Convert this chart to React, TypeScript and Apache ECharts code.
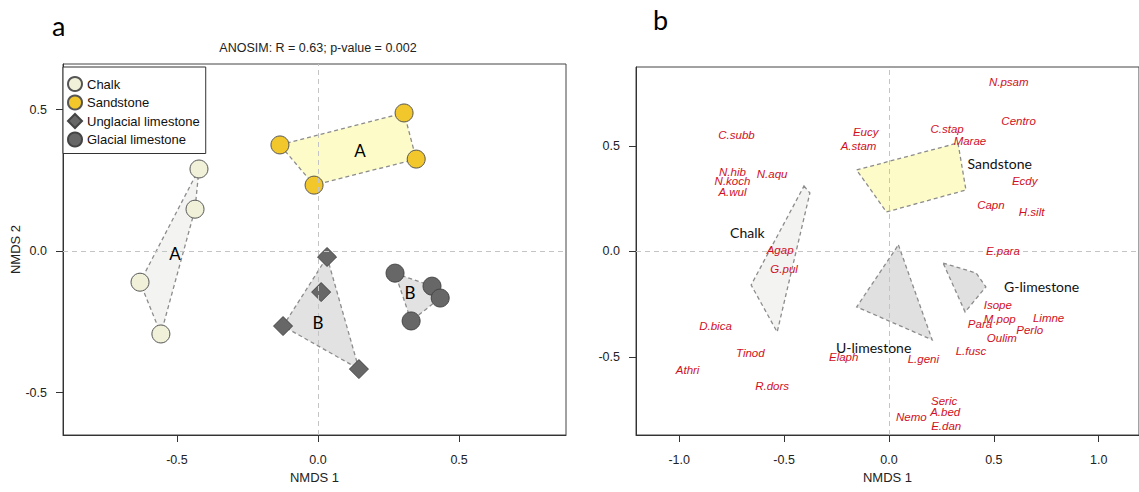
import React, { useEffect, useRef } from "react";
import * as echarts from "echarts";

// ---------- Panel a data ----------
const groupNames = ["Chalk", "Sandstone", "Unglacial limestone", "Glacial limestone"];
const chalkX = [-0.422, -0.436, -0.557, -0.631];
const chalkY = [0.29, 0.148, -0.293, -0.11];
const sandX = [-0.135, 0.305, 0.348, -0.014];
const sandY = [0.375, 0.488, 0.325, 0.233];
const uLimeX = [0.032, 0.145, -0.124, 0.011];
const uLimeY = [-0.021, -0.417, -0.265, -0.145];
const gLimeX = [0.273, 0.404, 0.433, 0.33];
const gLimeY = [-0.078, -0.124, -0.166, -0.247];
const chalkHull = [0, 1, 2, 3];
const sandHull = [0, 1, 2, 3];
const uLimeHull = [0, 1, 2];
const gLimeHull = [0, 1, 2, 3];
const hullLabelText = ["A", "A", "B", "B"];
const hullLabelX = [-0.507, 0.149, 0.0, 0.326];
const hullLabelY = [-0.007, 0.357, -0.254, -0.148];
const aTicks = [-0.5, 0, 0.5];

// ---------- Panel b data ----------
const bChalkHullX = [-0.405, -0.377, -0.533, -0.657];
const bChalkHullY = [0.31, 0.277, -0.382, -0.159];
const bSandHullX = [-0.154, 0.329, 0.367, -0.012];
const bSandHullY = [0.386, 0.514, 0.291, 0.187];
const bULimeHullX = [0.045, 0.206, -0.154];
const bULimeHullY = [0.031, -0.419, -0.263];
const bGLimeHullX = [0.258, 0.415, 0.462, 0.363];
const bGLimeHullY = [-0.055, -0.102, -0.168, -0.287];
const siteNames = ["Sandstone", "Chalk", "U-limestone", "G-limestone"];
const siteX = [0.528, -0.675, -0.073, 0.728];
const siteY = [0.419, 0.088, -0.457, -0.164];
const speciesNames = [
  "N.psam", "Centro", "C.subb", "Eucy", "A.stam", "C.stap", "Marae", "N.hib", "N.aqu",
  "N.koch", "A.wul", "Ecdy", "Capn", "H.silt", "Agap", "G.pul", "E.para", "Isope",
  "M.pop", "Para", "Limne", "Perlo", "Oulim", "L.fusc", "L.geni", "D.bica", "Tinod",
  "Elaph", "Athri", "R.dors", "Seric", "A.bed", "Nemo", "E.dan",
];
const speciesX = [
  0.571, 0.618, -0.727, -0.111, -0.145, 0.277, 0.386, -0.746, -0.557,
  -0.746, -0.746, 0.647, 0.486, 0.68, -0.519, -0.5, 0.543, 0.519,
  0.528, 0.434, 0.761, 0.671, 0.538, 0.391, 0.164, -0.827, -0.661,
  -0.216, -0.96, -0.557, 0.263, 0.268, 0.107, 0.273,
];
const speciesY = [
  0.803, 0.618, 0.552, 0.566, 0.5, 0.581, 0.524, 0.377, 0.367,
  0.334, 0.282, 0.334, 0.22, 0.187, 0.007, -0.083, 0.002, -0.254,
  -0.32, -0.344, -0.315, -0.372, -0.41, -0.472, -0.509, -0.353, -0.481,
  -0.5, -0.562, -0.637, -0.709, -0.761, -0.784, -0.827,
];
const bTicksX = [-1, -0.5, 0, 0.5, 1];
const bTicksY = [-0.5, 0, 0.5];

const SANS = "Liberation Sans, Arial, sans-serif";
const CAL = "Lato, Open Sans, sans-serif";

function hull(xs: number[], ys: number[], idx: number[], fill: string, ai: number) {
  return {
    type: "custom",
    xAxisIndex: ai,
    yAxisIndex: ai,
    z: 1,
    silent: true,
    clip: false,
    data: idx.map((i) => [xs[i], ys[i]]),
    renderItem: (params: any, api: any) => {
      if (params.dataIndex !== 0) return { type: "group", children: [] };
      const pts = idx.map((i) => api.coord([xs[i], ys[i]]));
      return {
        type: "polygon",
        shape: { points: pts },
        style: { fill, stroke: "#8c8c8c", lineWidth: 1.3, lineDash: [4, 3] },
      };
    },
  };
}

function textSeries(names: string[], xs: number[], ys: number[], ai: number, label: any) {
  return {
    type: "scatter",
    xAxisIndex: ai,
    yAxisIndex: ai,
    symbolSize: 1,
    itemStyle: { color: "transparent", opacity: 1 },
    silent: true,
    z: 5,
    data: names.map((n, i) => ({ name: n, value: [xs[i], ys[i]] })),
    label: { show: true, position: "inside", formatter: "{b}", opacity: 1, ...label },
  };
}

function zeroLines(ai: number) {
  return {
    type: "scatter",
    xAxisIndex: ai,
    yAxisIndex: ai,
    data: [],
    silent: true,
    z: 2,
    markLine: {
      symbol: "none",
      silent: true,
      animation: false,
      label: { show: false },
      lineStyle: { type: [5, 4], color: "#c4c4c4", width: 1 },
      data: [{ xAxis: 0 }, { yAxis: 0 }],
    },
  };
}

function axisCommon(ticks: number[], margin: number) {
  return {
    type: "value",
    axisLine: { show: true, onZero: false, lineStyle: { color: "#333", width: 1 } },
    axisTick: { show: true, length: 7, customValues: ticks, lineStyle: { color: "#333" } },
    axisLabel: {
      customValues: ticks,
      formatter: (v: number) => v.toFixed(1),
      margin,
      fontSize: 12.5,
      color: "#222",
      fontFamily: SANS,
    },
    splitLine: { show: false },
  };
}

export default function App() {
  const ref = useRef<HTMLDivElement>(null);
  useEffect(() => {
    if (!ref.current) return;
    const chart = echarts.init(ref.current, undefined, { renderer: "svg" });
    const pts = (xs: number[], ys: number[]) => xs.map((x, i) => [x, ys[i]]);
    const option: any = {
      animation: false,
      backgroundColor: "#fff",
      grid: [
        { left: 63, top: 64, width: 503, height: 371, show: true, borderColor: "#444", borderWidth: 1, backgroundColor: "transparent" },
        { left: 636, top: 67, width: 506, height: 368, show: true, borderColor: "#444", borderWidth: 1, backgroundColor: "transparent" },
      ],
      xAxis: [
        {
          ...axisCommon(aTicks, 18),
          gridIndex: 0, min: -0.904, max: 0.879,
          name: "NMDS 1", nameLocation: "middle", nameGap: 36,
          nameTextStyle: { fontSize: 13, color: "#222", fontFamily: SANS },
        },
        {
          ...axisCommon(bTicksX, 18),
          gridIndex: 1, min: -1.206, max: 1.192,
          name: "NMDS 1", nameLocation: "middle", nameGap: 36,
          nameTextStyle: { fontSize: 13, color: "#222", fontFamily: SANS },
        },
      ],
      yAxis: [
        {
          ...axisCommon(aTicks, 16),
          gridIndex: 0, min: -0.65, max: 0.661,
          name: "NMDS 2", nameLocation: "middle", nameGap: 38, nameRotate: 90,
          nameTextStyle: { fontSize: 13, color: "#222", fontFamily: SANS },
        },
        {
          ...axisCommon(bTicksY, 16),
          gridIndex: 1, min: -0.87, max: 0.874,
        },
      ],
      legend: {
        data: groupNames,
        orient: "vertical",
        left: 63,
        top: 67,
        itemWidth: 14,
        itemHeight: 14,
        itemGap: 2.5,
        padding: [9, 6, 6, 4],
        backgroundColor: "#fff",
        borderColor: "#333",
        borderWidth: 1,
        borderRadius: 0,
        selectedMode: false,
        textStyle: { fontSize: 13, color: "#111", fontFamily: SANS },
        z: 10,
      },
      graphic: [
        { type: "text", x: 52, y: 12, style: { text: "a", fontSize: 27, fontFamily: CAL, fill: "#000" } },
        { type: "text", x: 653, y: 6, style: { text: "b", fontSize: 27, fontFamily: CAL, fill: "#000" } },
        {
          type: "text", x: 318, y: 48,
          style: { text: "ANOSIM: R = 0.63; p-value = 0.002", fontSize: 12.5, fontFamily: SANS, fill: "#222", align: "center", verticalAlign: "middle" },
        },
      ],
      series: [
        hull(chalkX, chalkY, chalkHull, "#f3f3f1", 0),
        hull(sandX, sandY, sandHull, "#fdfcc8", 0),
        hull(uLimeX, uLimeY, uLimeHull, "#e2e2e2", 0),
        hull(gLimeX, gLimeY, gLimeHull, "#e2e2e2", 0),
        zeroLines(0),
        {
          type: "scatter", name: groupNames[0], xAxisIndex: 0, yAxisIndex: 0, z: 3,
          symbol: "circle", symbolSize: 18, data: pts(chalkX, chalkY),
          itemStyle: { color: "#f1f1d9", borderColor: "#555", borderWidth: 1, opacity: 1 },
        },
        {
          type: "scatter", name: groupNames[1], xAxisIndex: 0, yAxisIndex: 0, z: 3,
          symbol: "circle", symbolSize: 18, data: pts(sandX, sandY),
          itemStyle: { color: "#f1c72c", borderColor: "#555", borderWidth: 1, opacity: 1 },
        },
        {
          type: "scatter", name: groupNames[2], xAxisIndex: 0, yAxisIndex: 0, z: 3,
          symbol: "diamond", symbolSize: 19, data: pts(uLimeX, uLimeY),
          itemStyle: { color: "#676767", borderColor: "#444", borderWidth: 1, opacity: 1 },
        },
        {
          type: "scatter", name: groupNames[3], xAxisIndex: 0, yAxisIndex: 0, z: 3,
          symbol: "circle", symbolSize: 18, data: pts(gLimeX, gLimeY),
          itemStyle: { color: "#676767", borderColor: "#444", borderWidth: 1, opacity: 1 },
        },
        textSeries(hullLabelText, hullLabelX, hullLabelY, 0, { fontSize: 17, color: "#000", fontFamily: CAL }),
        hull(bChalkHullX, bChalkHullY, [0, 1, 2, 3], "#f3f3f1", 1),
        hull(bSandHullX, bSandHullY, [0, 1, 2, 3], "#fdfcc8", 1),
        hull(bULimeHullX, bULimeHullY, [0, 1, 2], "#e0e0e0", 1),
        hull(bGLimeHullX, bGLimeHullY, [0, 1, 2, 3], "#e0e0e0", 1),
        zeroLines(1),
        textSeries(siteNames, siteX, siteY, 1, { fontSize: 14, color: "#111", fontFamily: CAL }),
        textSeries(speciesNames, speciesX, speciesY, 1, {
          fontSize: 11.5, color: "#d0101e", fontStyle: "italic", fontFamily: SANS,
        }),
      ],
    };
    chart.setOption(option);
    return () => chart.dispose();
  }, []);
  return (
    <div
      ref={ref}
      style={{ position: "fixed", left: 0, top: 0, width: 1139, height: 492, background: "#fff" }}
    />
  );
}
